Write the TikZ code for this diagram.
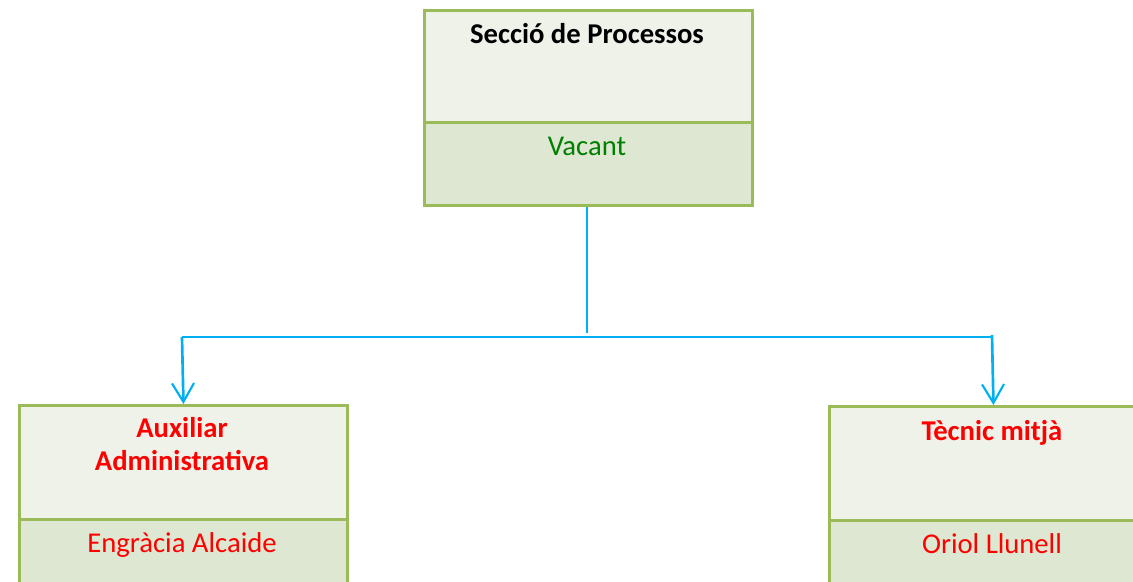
\documentclass[tikz,border=0pt]{standalone}
\usepackage{fontspec}
\setmainfont{Carlito}
\usetikzlibrary{arrows.meta}
\definecolor{boxborder}{RGB}{155,187,89}
\definecolor{boxtop}{RGB}{239,242,233}
\definecolor{boxbot}{RGB}{222,231,209}
\definecolor{conncol}{RGB}{0,176,240}
\definecolor{vacgreen}{RGB}{0,128,0}
\definecolor{pred}{RGB}{255,0,0}
\tikzset{
  upperbox/.style={draw=boxborder, line width=2.2pt, fill=boxtop, rectangle, inner sep=0pt,
    minimum width=246pt, minimum height=#1, anchor=north west},
  lowerbox/.style={draw=boxborder, line width=2.2pt, fill=boxbot, rectangle, inner sep=0pt,
    minimum width=246pt, minimum height=62.25pt, anchor=north west},
  titletext/.style={font=\fontsize{21.5}{24.75}\selectfont\bfseries, align=center, anchor=base, inner sep=0pt},
  nametext/.style={font=\fontsize{21.5}{24.75}\selectfont, anchor=base, inner sep=0pt},
  conn/.style={draw=conncol, line width=2pt},
  arrowtip/.style={-{Straight Barb[length=14pt, width=16.5pt, line width=1.6pt]}},
}
\begin{document}
\begin{tikzpicture}[x=0.75pt, y=-0.75pt]
\useasboundingbox (0,0) rectangle (1133,582);
\clip (0,0) rectangle (1133,582);
% top box
\node[upperbox=84pt] (topU) at (423,9) {};
\node[lowerbox] (topL) at (423,121) {};
\node[titletext] (topT) at (587,43) {Secció de Processos};
\node[nametext, text=vacgreen] (topN) at (587,155) {Vacant};
% left box
\node[upperbox=85.5pt] (leftU) at (18,404) {};
\node[lowerbox] (leftL) at (18,518) {};
\node[titletext, text=pred] (leftT1) at (182,437) {Auxiliar};
\node[titletext, text=pred] (leftT2) at (182,470) {Administrativa};
\node[nametext, text=pred] (leftN) at (182,552) {Engràcia Alcaide};
% right box
\node[upperbox=85.5pt] (rightU) at (828,405) {};
\node[lowerbox] (rightL) at (828,519) {};
\node[titletext, text=pred] (rightT) at (992,440) {Tècnic mitjà};
\node[nametext, text=pred] (rightN) at (992,553) {Oriol Llunell};
% connectors
\coordinate (stemTop) at (587,207);
\coordinate (stemEnd) at (587,333);
\coordinate (busL) at (182,337);
\coordinate (busR) at (992,337);
\coordinate (busRtop) at (992,335);
\draw[conn] (stemTop) -- (stemEnd);
\draw[conn] (busL) -- (busR);
\draw[conn, arrowtip] (busL) -- (leftU.north);
\draw[conn, arrowtip] (busRtop) -- (rightU.north);
\end{tikzpicture}
\end{document}
